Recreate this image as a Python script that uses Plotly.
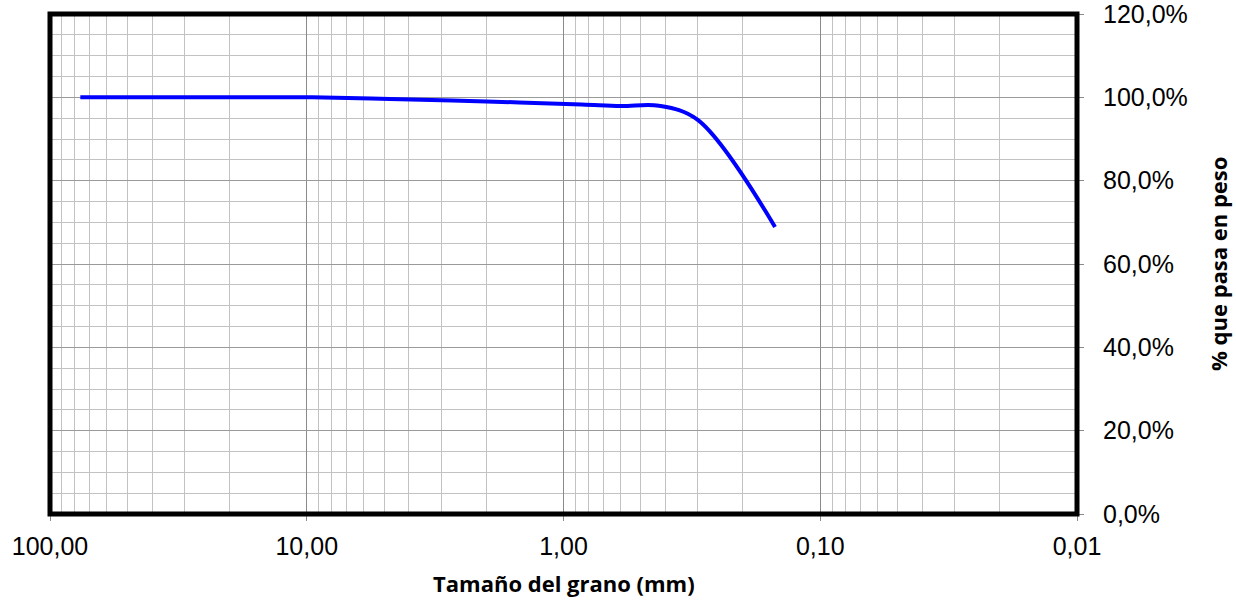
import plotly.graph_objects as go

# Sieve opening (mm) and % passing
sizes_mm = [76.2, 50.8, 38.1, 25.4, 19.05, 12.7, 9.525, 4.75, 2.0, 0.85, 0.6, 0.425, 0.3, 0.15]
pct_passing = [100.0, 100.0, 100.0, 100.0, 100.0, 100.0, 100.0, 99.6, 99.0, 98.3, 97.9, 98.0, 94.6, 68.9]

x_tickvals = [100, 10, 1, 0.1, 0.01]
x_ticktext = ["100,00", "10,00", "1,00", "0,10", "0,01"]
y_tickvals = [0, 20, 40, 60, 80, 100, 120]
y_ticktext = ["0,0%", "20,0%", "40,0%", "60,0%", "80,0%", "100,0%", "120,0%"]

x_minor = [m * 10 ** e for e in range(-2, 2) for m in range(2, 10)]

fig = go.Figure()
fig.add_trace(go.Scatter(
    x=sizes_mm, y=pct_passing, mode="lines",
    line=dict(color="#0000ff", width=4, shape="spline", smoothing=1.0),
    showlegend=False, hoverinfo="x+y"))

tick_font = dict(family="Liberation Sans, Arial, sans-serif", size=25, color="#000")
title_font = dict(family="Open Sans, Lato, sans-serif", size=22, color="#000")

fig.update_layout(
    width=1236, height=602,
    margin=dict(l=50, r=159, t=14, b=88),
    paper_bgcolor="white", plot_bgcolor="white",
    font=tick_font,
    xaxis=dict(
        type="log", range=[2, -2], autorange=False, automargin=False,
        tickmode="array", tickvals=x_tickvals, ticktext=x_ticktext,
        tickfont=tick_font, ticklabelstandoff=4, ticklabeloverflow="allow",
        showgrid=True, gridcolor="#8a8a8a", gridwidth=1,
        minor=dict(tickmode="array", tickvals=x_minor, showgrid=True,
                   gridcolor="#c2c2c2", gridwidth=1, ticks=""),
        ticks="outside", ticklen=6, tickcolor="#8a8a8a",
        showline=True, linecolor="#8a8a8a", linewidth=1,
        zeroline=False,
    ),
    yaxis=dict(
        side="right", range=[0, 120], autorange=False, automargin=False,
        tickmode="array", tickvals=y_tickvals, ticktext=y_ticktext,
        tickfont=tick_font, ticklabelstandoff=14, ticklabeloverflow="allow",
        showgrid=True, gridcolor="#9a9a9a", gridwidth=1,
        minor=dict(dtick=5, showgrid=True, gridcolor="#c2c2c2", gridwidth=1, ticks=""),
        ticks="outside", ticklen=6, tickcolor="#8a8a8a",
        showline=True, linecolor="#8a8a8a", linewidth=1,
        zeroline=False,
    ),
    shapes=[dict(type="rect", xref="paper", yref="paper", x0=0, x1=1, y0=0, y1=1,
                 line=dict(color="black", width=5), fillcolor="rgba(0,0,0,0)",
                 layer="above")],
    annotations=[
        dict(text="<b>Tamaño del grano (mm)</b>", xref="paper", yref="paper",
             x=0.5, y=0, yshift=-69, xanchor="center", yanchor="middle",
             showarrow=False, font=title_font),
        dict(text="<b>% que pasa en peso</b>", xref="paper", yref="paper",
             x=1, y=0.5, xshift=141, xanchor="center", yanchor="middle",
             textangle=-90, showarrow=False, font=title_font),
    ],
)

# remove the browser's default 8px body margin so the chart fills the window exactly
fig.write_html(
    "out.html",
    config={"displayModeBar": False},
    post_script="document.body.style.margin='0';document.body.style.overflow='hidden';",
)
